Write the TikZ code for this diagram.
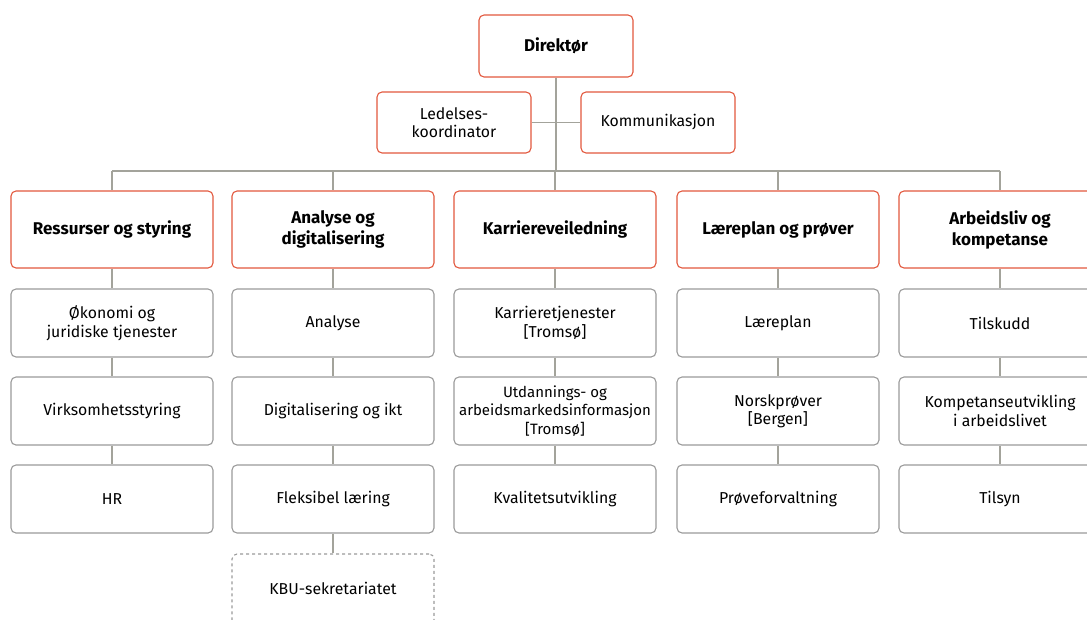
\documentclass[tikz,border=0pt]{standalone}
\usepackage{fontspec}
\setmainfont{Fira Sans}
\definecolor{headred}{HTML}{E2583E}
\definecolor{boxgray}{HTML}{9A9A9A}
\definecolor{linegray}{HTML}{A3A39B}
\begin{document}
\begin{tikzpicture}[x=1pt,y=-1pt,
  base/.style={rounded corners=5pt, line width=1.1pt, align=center, inner sep=1pt, font=\fontsize{15.8}{18.5}\selectfont},
  head/.style={base, draw=headred, minimum width=202pt, minimum height=77pt, font=\fontsize{17}{21}\selectfont\bfseries},
  topbox/.style={base, draw=headred, minimum width=154pt},
  sub/.style={base, draw=boxgray, minimum width=202pt, minimum height=68pt},
  dsub/.style={base, draw=boxgray, dashed, minimum width=202pt, minimum height=72pt},
  conn/.style={draw=linegray, line width=1.1pt}]
\useasboundingbox (0,0) rectangle (1087,619);
\clip (0,0) rectangle (1087,619);
% top
\node[topbox, minimum height=62pt, font=\fontsize{17}{21}\selectfont\bfseries] (dir) at (556,46) {Direktør};
\node[topbox, minimum height=61pt] (led) at (454,122.5) {Ledelses-\\koordinator};
\node[topbox, minimum height=61pt] (kom) at (658,122.5) {Kommunikasjon};
\coordinate (bar) at (556,171);
% heads
\node[head] (h1) at (112,229.5) {Ressurser og styring};
\node[head] (h2) at (333,229.5) {Analyse og\\digitalisering};
\node[head] (h3) at (555,229.5) {Karriereveiledning};
\node[head] (h4) at (778,229.5) {Læreplan og prøver};
\node[head] (h5) at (1000,229.5) {Arbeidsliv og\\kompetanse};
% connectors
\draw[conn] (dir.south) -- (bar);
\draw[conn] (led.east) -- (kom.west);
\foreach \h in {h1,h2,h3,h4,h5}{
  \coordinate (t\h) at (\h.north |- bar);
  \draw[conn] (t\h) -- (\h.north);
}
\draw[conn] (th1) -- (th5);
% sub boxes
\node[sub] (a1) at (112,323) {Økonomi og\\juridiske tjenester};
\node[sub] (a2) at (112,411) {Virksomhetsstyring};
\node[sub] (a3) at (112,499) {HR};
\node[sub] (b1) at (333,323) {Analyse};
\node[sub] (b2) at (333,411) {Digitalisering og ikt};
\node[sub] (b3) at (333,499) {Fleksibel læring};
\node[dsub] (b4) at (333,590) {\raisebox{4pt}{KBU-sekretariatet}};
\node[sub] (c1) at (555,323) {Karrieretjenester\\{[Tromsø]}};
\node[sub, font=\fontsize{15}{18.5}\selectfont] (c2) at (555,411) {Utdannings- og\\arbeidsmarkedsinformasjon\\{[Tromsø]}};
\node[sub] (c3) at (555,499) {Kvalitetsutvikling};
\node[sub] (d1) at (778,323) {Læreplan};
\node[sub] (d2) at (778,411) {Norskprøver\\{[Bergen]}};
\node[sub] (d3) at (778,499) {Prøveforvaltning};
\node[sub] (e1) at (1000,323) {Tilskudd};
\node[sub] (e2) at (1000,411) {Kompetanseutvikling\\i arbeidslivet};
\node[sub] (e3) at (1000,499) {Tilsyn};
\foreach \x/\y in {h1/a1,a1/a2,a2/a3,h2/b1,b1/b2,b2/b3,b3/b4,h3/c1,c1/c2,c2/c3,h4/d1,d1/d2,d2/d3,h5/e1,e1/e2,e2/e3}{
  \draw[conn] (\x.south) -- (\y.north);
}
\end{tikzpicture}
\end{document}
